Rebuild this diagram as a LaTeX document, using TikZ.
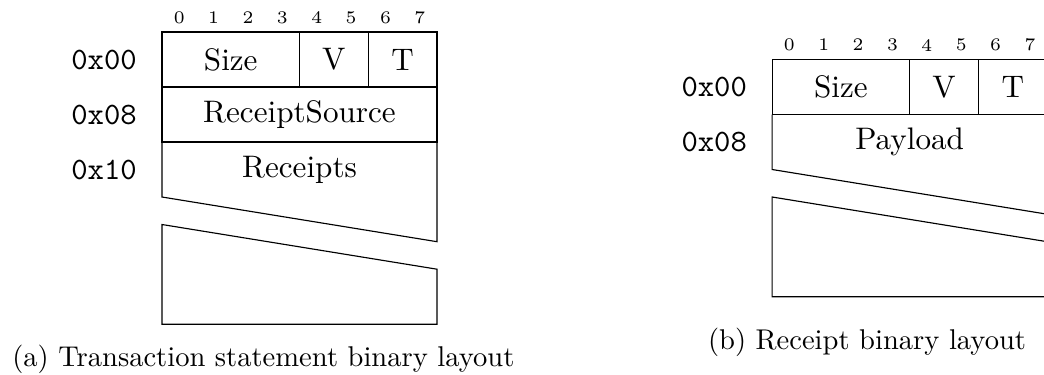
\documentclass[tikz,border=0pt]{standalone}
\usetikzlibrary{calc}
\tikzset{
  field/.style={font=\fontsize{10.9}{13}\selectfont},
  addr/.style={anchor=east, font=\fontsize{10.9}{13}\selectfont\ttfamily},
  bitno/.style={font=\fontsize{6.2}{7}\selectfont},
  subcap/.style={anchor=base, font=\fontsize{10}{12}\selectfont},
}
% bit numbers and the first row (size, version, type) of a layout
\def\headrow#1{%
  \foreach \i in {0,...,7}
    \node[bitno] (#1bit\i) at (\i+0.5, 0.42) {\i};
  \draw (0,0) rectangle (8,-1.6);
  \draw (4,0) -- (4,-1.6);
  \draw (6,0) -- (6,-1.6);
  \node[addr] (#1a00) at (-0.44,-0.8) {0x00};
  \node[field] (#1size) at (2,-0.8) {Size};
  \node[field] (#1v) at (5,-0.8) {V};
  \node[field] (#1t) at (7,-0.8) {T};
}
\begin{document}
\begin{tikzpicture}[x=12.03pt, y=12.03pt]
	%%%%% START %%%%%
	\clip (-4.713,0.931) rectangle (25.658,-9.949);

	%%%%% (a) transaction statement
	\headrow{ts}
	\draw (0,-1.6) rectangle (8,-3.2);
	\node[addr] (tsa08) at (-0.44,-2.4) {0x08};
	\node[field] (tssrc) at (4,-2.4) {ReceiptSource};

	\draw (0,-3.2) -- (0,-4.8) -- (8,-6.1) -- (8,-3.2);
	\node[addr] (tsa10) at (-0.44,-4.0) {0x10};
	\node[field] (tsrcpts) at (4,-4.0) {Receipts};
	\draw (0,-5.6) -- (0,-8.5) -- (8,-8.5) -- (8,-6.9) -- cycle;

	\node[subcap] (tscap) at (2.95,-9.745) {(a) Transaction statement binary layout};

	%%%%% (b) receipt
	\begin{scope}[shift={(17.75,-0.8)}]
		\headrow{rc}
		\draw (0,-1.6) -- (0,-3.2) -- (8,-4.5) -- (8,-1.6);
		\node[addr] (rca08) at (-0.44,-2.4) {0x08};
		\node[field] (rcpay) at (4,-2.4) {Payload};
		\draw (0,-4.0) -- (0,-6.9) -- (8,-6.9) -- (8,-5.3) -- cycle;

		\node[subcap] (rccap) at (2.76,-8.45) {(b) Receipt binary layout};
	\end{scope}
	%%%%% END %%%%%
\end{tikzpicture}
\end{document}
